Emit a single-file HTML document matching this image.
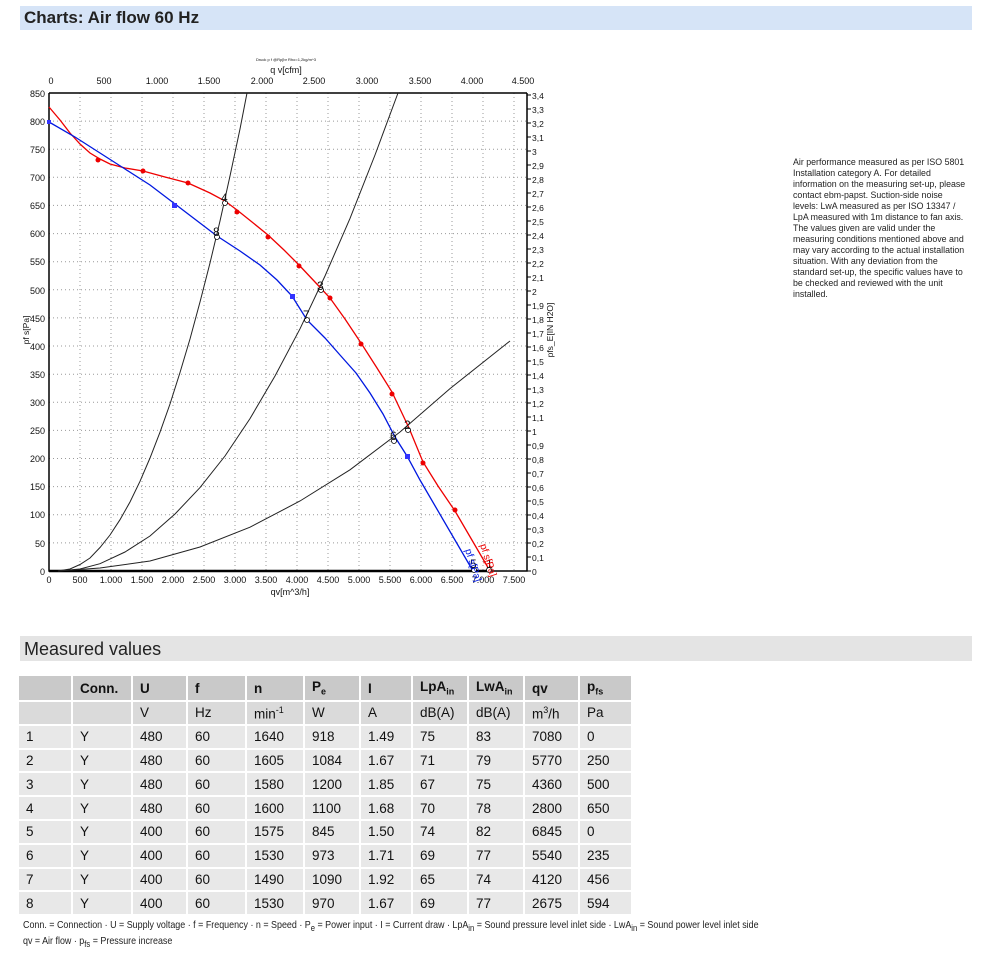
<!DOCTYPE html>
<html><head><meta charset="utf-8"><style>
body{margin:0;width:1000px;height:955px;background:#fff;font-family:"Liberation Sans",Arial,sans-serif;position:relative;overflow:hidden}
.bar1{position:absolute;left:20px;top:6px;width:952px;height:24px;background:#d6e4f7;font-weight:bold;font-size:17px;line-height:24px;padding-left:4px;box-sizing:border-box;color:#222}
.bar2{position:absolute;left:20px;top:636px;width:952px;height:25px;background:#e4e4e4;font-size:18px;line-height:26px;padding-left:4px;box-sizing:border-box;color:#222}
.note{position:absolute;left:793px;top:157px;font-size:9.6px;line-height:11px;color:#222;transform:scaleX(0.92);transform-origin:0 0;white-space:nowrap}
table{position:absolute;left:19px;top:676px;border-collapse:separate;border-spacing:2px;margin:-2px;font-size:13.5px;color:#111}
td{height:21.8px;padding:0 0 0 7px;background:#e8e8e8;box-sizing:border-box}
tr.h td{background:#c9c9c9;font-weight:bold}
tr.u td{background:#dadada}
sub,sup{font-size:9px}
.foot{position:absolute;left:23px;font-size:10.5px;color:#222;transform:scaleX(0.85);transform-origin:0 0;white-space:nowrap}
</style></head><body>
<div class="bar1">Charts: Air flow 60 Hz</div>
<svg width="1000" height="620" style="position:absolute;left:0;top:0" font-family="Liberation Sans,Arial,sans-serif">
<g stroke="#999" stroke-width="1" stroke-dasharray="1,3">
<path d="M80 93V571M111 93V571M142 93V571M173 93V571M204 93V571M235 93V571M266 93V571M297 93V571M328 93V571M359 93V571M390 93V571M421 93V571M452 93V571M483 93V571M514 93V571"/>
<path d="M49 542.9H527M49 514.8H527M49 486.6H527M49 458.5H527M49 430.4H527M49 402.3H527M49 374.2H527M49 346H527M49 317.9H527M49 289.8H527M49 261.7H527M49 233.6H527M49 205.4H527M49 177.3H527M49 149.2H527M49 121.1H527"/>
</g>
<path d="M49 93H527" stroke="#000" stroke-width="1.5"/>
<path d="M49 93V571H527V93" stroke="#000" stroke-width="1.5" fill="none"/>
<path d="M49 571H490" stroke="#000" stroke-width="2.5"/>
<g font-size="9" fill="#111" text-anchor="end">
<text x="45" y="575">0</text><text x="45" y="547">50</text><text x="45" y="518">100</text><text x="45" y="490">150</text><text x="45" y="462">200</text><text x="45" y="434">250</text><text x="45" y="406">300</text><text x="45" y="378">350</text><text x="45" y="350">400</text><text x="45" y="322">450</text><text x="45" y="294">500</text><text x="45" y="265">550</text><text x="45" y="237">600</text><text x="45" y="209">650</text><text x="45" y="181">700</text><text x="45" y="153">750</text><text x="45" y="125">800</text><text x="45" y="97">850</text>
</g>
<g font-size="9" fill="#111" text-anchor="middle">
<text x="49" y="583">0</text><text x="80" y="583">500</text><text x="111" y="583">1.000</text><text x="142" y="583">1.500</text><text x="173" y="583">2.000</text><text x="204" y="583">2.500</text><text x="235" y="583">3.000</text><text x="266" y="583">3.500</text><text x="297" y="583">4.000</text><text x="328" y="583">4.500</text><text x="359" y="583">5.000</text><text x="390" y="583">5.500</text><text x="421" y="583">6.000</text><text x="452" y="583">6.500</text><text x="483" y="583">7.000</text><text x="514" y="583">7.500</text>
<text x="290" y="595">qv[m^3/h]</text>
<text x="51" y="84">0</text><text x="104" y="84">500</text><text x="157" y="84">1.000</text><text x="209" y="84">1.500</text><text x="262" y="84">2.000</text><text x="314" y="84">2.500</text><text x="367" y="84">3.000</text><text x="420" y="84">3.500</text><text x="472" y="84">4.000</text><text x="523" y="84">4.500</text>
<text x="286" y="73">q v[cfm]</text>
<text x="286" y="61" font-size="4">Druck p f @Rp[br Rho=1,2kg/m^3</text>
</g>
<g stroke="#000" stroke-width="1">
<path d="M527 571h4M527 557h4M527 543h4M527 529h4M527 515h4M527 501h4M527 487h4M527 473h4M527 459h4M527 445h4M527 431h4M527 417h4M527 403h4M527 389h4M527 375h4M527 361h4M527 347h4M527 333h4M527 319h4M527 305h4M527 291h4M527 277h4M527 263h4M527 249h4M527 235h4M527 221h4M527 207h4M527 193h4M527 179h4M527 165h4M527 151h4M527 137h4M527 123h4M527 109h4M527 95h4"/>
</g>
<g font-size="8.5" fill="#111">
<text x="532" y="575">0</text><text x="532" y="561">0,1</text><text x="532" y="547">0,2</text><text x="532" y="533">0,3</text><text x="532" y="519">0,4</text><text x="532" y="505">0,5</text><text x="532" y="491">0,6</text><text x="532" y="477">0,7</text><text x="532" y="463">0,8</text><text x="532" y="449">0,9</text><text x="532" y="435">1</text><text x="532" y="421">1,1</text><text x="532" y="407">1,2</text><text x="532" y="393">1,3</text><text x="532" y="379">1,4</text><text x="532" y="365">1,5</text><text x="532" y="351">1,6</text><text x="532" y="337">1,7</text><text x="532" y="323">1,8</text><text x="532" y="309">1,9</text><text x="532" y="295">2</text><text x="532" y="281">2,1</text><text x="532" y="267">2,2</text><text x="532" y="253">2,3</text><text x="532" y="239">2,4</text><text x="532" y="225">2,5</text><text x="532" y="211">2,6</text><text x="532" y="197">2,7</text><text x="532" y="183">2,8</text><text x="532" y="169">2,9</text><text x="532" y="155">3</text><text x="532" y="141">3,1</text><text x="532" y="127">3,2</text><text x="532" y="113">3,3</text><text x="532" y="99">3,4</text>
</g>
<text transform="translate(29,330) rotate(-90)" font-size="8.5" text-anchor="middle" fill="#111">pf s[Pa]</text>
<text transform="translate(553,330) rotate(-90)" font-size="8.5" text-anchor="middle" fill="#111">pfs_E[IN H2O]</text>
<g fill="none" stroke="#222" stroke-width="1">
<polyline points="58,571 70,569 80,564.5 90,558 100,547.5 110,535 120,519.7 130,502 140,481.3 150,458 160,432.2 170,404 180,372.5 190,339 200,302 210,263 220,221 230,176 240,129 247,93"/>
<polyline points="58,571 80,569 100,563.7 125,552 150,536 175,514 200,487.6 225,456 250,418.6 275,376 300,328.8 325,276 350,218.4 375,155 398,93"/>
<polyline points="58,571 100,568 150,561 200,547 250,527.2 300,501 350,469.8 400,432 450,388.6 510,341"/>
</g>
<polyline fill="none" stroke="#e00" stroke-width="1.3" points="49,107 60,120 70,133 80,144 90,153 100,159 110,164 125,168 143,171 165,177 188,183 210,193 225,201 237,210 252,222 268,235 284,250 299,265 315,282 330,298 345,319 361,343 377,368 392,392 409,428 423,462 438,486 455,511 490,571"/>
<polyline fill="none" stroke="#0018e0" stroke-width="1.3" points="49,122 75,137 100,153 125,169 150,185 175,204 196,220 217,236 240,251 260,265 277,280 292,296 307,320 325,338 340,355 356,373 370,393 383,414 395,437 407,456 420,480 473,571"/>
<g fill="#e00">
<circle cx="98" cy="160" r="2.5"/><circle cx="143" cy="171" r="2.5"/><circle cx="188" cy="183" r="2.5"/><circle cx="237" cy="212" r="2.5"/><circle cx="268" cy="237" r="2.5"/><circle cx="299" cy="266" r="2.5"/><circle cx="330" cy="298" r="2.5"/><circle cx="361" cy="344" r="2.5"/><circle cx="392" cy="394" r="2.5"/><circle cx="423" cy="463" r="2.5"/><circle cx="455" cy="510" r="2.5"/>
</g>
<g fill="#33f"><rect x="172" y="203" width="5" height="5"/><rect x="290" y="294" width="5" height="5"/><rect x="405" y="454" width="5" height="5"/><rect x="47" y="120" width="4" height="4"/></g>
<g fill="#fff" stroke="#000" stroke-width="0.8">
<circle cx="225" cy="203" r="2.5"/><circle cx="217" cy="237" r="2.5"/><circle cx="321" cy="290" r="2.5"/><circle cx="307" cy="320" r="2.5"/><circle cx="408" cy="430" r="2.5"/><circle cx="394" cy="441" r="2.5"/><circle cx="474" cy="570" r="2.5"/><circle cx="489" cy="570" r="2.5"/>
</g>
<g font-size="12" fill="#111">
<text x="221" y="202">4</text><text x="213" y="236">8</text><text x="317" y="290">3</text><text x="303" y="319">7</text><text x="404" y="429">2</text><text x="390" y="440">6</text><text x="470" y="568">5</text><text x="486" y="568">1</text>
</g>
<text transform="translate(480,545) rotate(72)" font-size="10" fill="#e00">pf s[Pa]</text>
<text transform="translate(465,550) rotate(72)" font-size="10" fill="#0018e0">pf s[Pa]</text>
</svg>
<div class="note">Air performance measured as per ISO 5801<br>Installation category A. For detailed<br>information on the measuring set-up, please<br>contact ebm-papst. Suction-side noise<br>levels: LwA measured as per ISO 13347 /<br>LpA measured with 1m distance to fan axis.<br>The values given are valid under the<br>measuring conditions mentioned above and<br>may vary according to the actual installation<br>situation. With any deviation from the<br>standard set-up, the specific values have to<br>be checked and reviewed with the unit<br>installed.</div>
<div class="bar2">Measured values</div>
<table>
<colgroup><col style="width:52px"><col style="width:58px"><col style="width:53px"><col style="width:57px"><col style="width:56px"><col style="width:54px"><col style="width:50px"><col style="width:54px"><col style="width:54px"><col style="width:53px"><col style="width:51px"></colgroup>
<tr class="h" style="height:24px"><td></td><td>Conn.</td><td>U</td><td>f</td><td>n</td><td>P<sub>e</sub></td><td>I</td><td>LpA<sub>in</sub></td><td>LwA<sub>in</sub></td><td>qv</td><td>p<sub>fs</sub></td></tr>
<tr class="u"><td></td><td></td><td>V</td><td>Hz</td><td>min<sup>-1</sup></td><td>W</td><td>A</td><td>dB(A)</td><td>dB(A)</td><td>m<sup>3</sup>/h</td><td>Pa</td></tr>
<tr><td>1</td><td>Y</td><td>480</td><td>60</td><td>1640</td><td>918</td><td>1.49</td><td>75</td><td>83</td><td>7080</td><td>0</td></tr>
<tr><td>2</td><td>Y</td><td>480</td><td>60</td><td>1605</td><td>1084</td><td>1.67</td><td>71</td><td>79</td><td>5770</td><td>250</td></tr>
<tr><td>3</td><td>Y</td><td>480</td><td>60</td><td>1580</td><td>1200</td><td>1.85</td><td>67</td><td>75</td><td>4360</td><td>500</td></tr>
<tr><td>4</td><td>Y</td><td>480</td><td>60</td><td>1600</td><td>1100</td><td>1.68</td><td>70</td><td>78</td><td>2800</td><td>650</td></tr>
<tr><td>5</td><td>Y</td><td>400</td><td>60</td><td>1575</td><td>845</td><td>1.50</td><td>74</td><td>82</td><td>6845</td><td>0</td></tr>
<tr><td>6</td><td>Y</td><td>400</td><td>60</td><td>1530</td><td>973</td><td>1.71</td><td>69</td><td>77</td><td>5540</td><td>235</td></tr>
<tr><td>7</td><td>Y</td><td>400</td><td>60</td><td>1490</td><td>1090</td><td>1.92</td><td>65</td><td>74</td><td>4120</td><td>456</td></tr>
<tr><td>8</td><td>Y</td><td>400</td><td>60</td><td>1530</td><td>970</td><td>1.67</td><td>69</td><td>77</td><td>2675</td><td>594</td></tr>
</table>
<div class="foot" style="top:919px">Conn. = Connection · U = Supply voltage · f = Frequency · n = Speed · P<sub>e</sub> = Power input · I = Current draw · LpA<sub>in</sub> = Sound pressure level inlet side · LwA<sub>in</sub> = Sound power level inlet side</div>
<div class="foot" style="top:935px">qv = Air flow · p<sub>fs</sub> = Pressure increase</div>
</body></html>
